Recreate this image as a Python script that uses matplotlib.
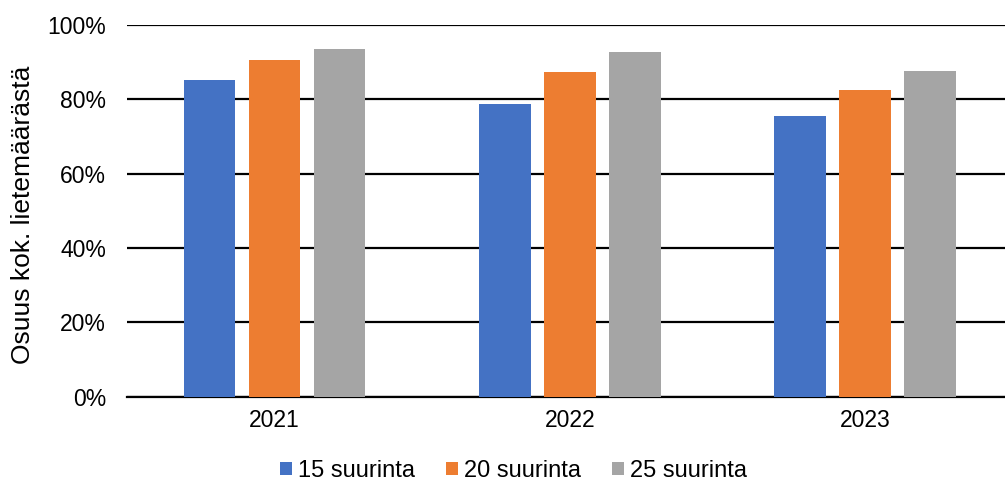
import numpy as np
import matplotlib
matplotlib.use('Agg')
import matplotlib.pyplot as plt
from matplotlib.ticker import PercentFormatter

plt.rcParams['font.family'] = ['Liberation Sans', 'DejaVu Sans']

years = ['2021', '2022', '2023']
top15 = [85.1, 78.8, 75.6]
top20 = [90.5, 87.3, 82.6]
top25 = [93.5, 92.7, 87.6]
series_names = ['15 suurinta', '20 suurinta', '25 suurinta']
colors = ['#4472C4', '#ED7D31', '#A5A5A5']

fs = 16.5

fig = plt.figure(figsize=(10.05, 4.86), dpi=100)
ax = fig.add_axes([0.1264, 0.1837, 0.8813, 0.7649])

x = np.arange(len(years))
w = 0.174
step = 0.22
for i, (vals, name, c) in enumerate(zip([top15, top20, top25], series_names, colors)):
    ax.bar(x + (i - 1) * step, vals, width=w, color=c, label=name, zorder=3)

ax.set_xlim(-0.5, 2.5)
ax.set_ylim(0, 100)
ax.set_yticks(range(0, 101, 20))
ax.yaxis.set_major_formatter(PercentFormatter(decimals=0))
ax.set_xticks(x)
ax.set_xticklabels(years)
ax.grid(axis='y', color='black', linewidth=1.6, zorder=0)
for s in ['top', 'right', 'left']:
    ax.spines[s].set_visible(False)
ax.spines['bottom'].set_linewidth(1.6)
ax.tick_params(length=0, labelsize=fs)
ax.tick_params(axis='y', pad=15)
ax.tick_params(axis='x', pad=9)
ax.set_ylabel('Osuus kok. lietemäärästä', fontsize=19)
ax.yaxis.set_label_coords(-0.104, 0.49)

fig.legend(loc='center', bbox_to_anchor=(0.511, 0.031), ncol=3, frameon=False,
           fontsize=17, handlelength=0.52, handleheight=0.52, handletextpad=0.26,
           columnspacing=1.3, borderpad=0)

fig.savefig('out.png', dpi=100)
